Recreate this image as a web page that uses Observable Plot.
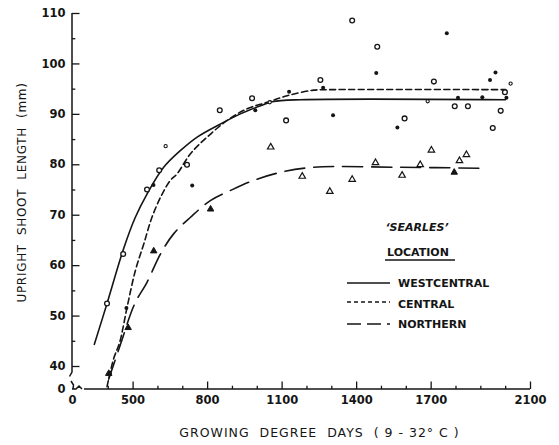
<!DOCTYPE html>
<html><head><meta charset="utf-8">
<script src="https://cdn.jsdelivr.net/npm/d3@7"></script>
<script src="https://cdn.jsdelivr.net/npm/@observablehq/plot@0.6"></script>
<style>body{margin:0;background:#fff} svg{font-family:"DejaVu Sans",sans-serif}</style>
</head><body><div id="chart"></div>
<script>
// Axis (broken at origin: the "0" tick sits at the break)
const xBreak = 256, yBreak = 35.44;
const xTickValues = [xBreak, 500, 800, 1100, 1400, 1700, 2100];
const xTickLabels = ["0", "500", "800", "1100", "1400", "1700", "2100"];
const xMinorTicks = [400, 600, 700, 900, 1000, 1200, 1300, 1500, 1600, 1800, 1900, 2000];
const yTickValues = [yBreak, 40, 50, 60, 70, 80, 90, 100, 110];
const yTickLabels = ["0", "40", "50", "60", "70", "80", "90", "100", "110"];
const yMinorTicks = [45, 55, 65, 75, 85, 95, 105];

// Observations
const wcX = [395, 460, 556, 605, 717, 849, 979, 1116, 1254, 1382, 1483, 1593, 1711, 1795, 1848, 1948, 1980, 1997];
const wcY = [52.5, 62.3, 75.1, 78.9, 80.0, 90.8, 93.2, 88.8, 96.8, 108.6, 103.4, 89.2, 96.5, 91.6, 91.6, 87.3, 90.7, 94.4];
const wcSmallX = [631, 1050, 1686, 2020];
const wcSmallY = [83.7, 92.4, 92.6, 96.1];
const centralX = [406, 473, 582, 738, 992, 1128, 1265, 1305, 1479, 1564, 1763, 1808, 1906, 1937, 1959, 2003];
const centralY = [38.6, 51.6, 76.0, 75.9, 90.8, 94.5, 95.3, 89.8, 98.2, 87.4, 106.1, 93.3, 93.4, 96.8, 98.3, 93.3];
const northX = [402, 480, 583, 812, 1054, 1181, 1292, 1382, 1476, 1583, 1656, 1701, 1793, 1814, 1842];
const northY = [38.6, 47.7, 62.9, 71.2, 83.5, 77.7, 74.7, 77.1, 80.4, 77.9, 80.0, 82.9, 78.5, 80.8, 82.0];
const northFilled = [true, true, true, true, false, false, false, false, false, false, false, false, true, false, false];

// Fitted curves
const wcCurveX = [344, 395, 462, 509, 556, 623, 690, 758, 852, 932, 1013, 1060, 1174, 1999];
const wcCurveY = [44.4, 52.5, 63.4, 69.6, 74.2, 79.5, 82.8, 85.5, 88.1, 90.1, 91.7, 92.5, 92.9, 92.9];
const centralCurveX = [395, 422, 446, 476, 509, 543, 576, 617, 650, 677, 731, 798, 879, 959, 1040, 1120, 1227, 1295, 1999];
const centralCurveY = [36.0, 41.6, 44.8, 51.8, 59.0, 64.3, 69.6, 74.2, 76.9, 78.2, 82.2, 85.5, 88.8, 91.1, 92.4, 93.7, 94.8, 94.9, 94.9];
const northCurveX = [402, 450, 506, 556, 610, 663, 731, 811, 892, 985, 1093, 1227, 1576, 1922];
const northCurveY = [37.5, 44.5, 52.4, 56.7, 62.3, 66.3, 69.6, 72.9, 74.9, 76.9, 78.5, 79.5, 79.5, 79.3];

const legendTitle = "\u2018SEARLES\u2019";
const legendHeading = "LOCATION";
const seriesNames = ["WESTCENTRAL", "CENTRAL", "NORTHERN"];
const xLabel = "GROWING  DEGREE  DAYS  ( 9 - 32\u00B0 C )";
const yLabel = "UPRIGHT  SHOOT  LENGTH  (mm)";

const zip = (xs, ys, extra) => xs.map((x, i) => ({x, y: ys[i], ...(extra ? {f: extra[i]} : {})}));
const W = 559, H = 445, mL = 72, mR = 29, mT = 13, mB = 56;
const innerW = W - mL - mR, innerH = H - mT - mB;
const ink = "#151515";
const dashes = [null, "6,3.5", "20,9"];

const plot = Plot.plot({
  width: W, height: H,
  marginLeft: mL, marginRight: mR, marginTop: mT, marginBottom: mB,
  x: {domain: [xBreak, 2100]},
  y: {domain: [yBreak, 110]},
  style: {fontFamily: "DejaVu Sans, sans-serif", fontSize: "11.5px", fontWeight: "bold", color: ink, background: "white"},
  marks: [
    Plot.axisX({ticks: xTickValues, tickFormat: d => xTickLabels[xTickValues.indexOf(d)], tickSize: 0, tickPadding: 6, label: null}),
    Plot.axisY({ticks: yTickValues, tickFormat: d => yTickLabels[yTickValues.indexOf(d)], tickSize: 0, tickPadding: 7, label: null}),
    Plot.tickX(xTickValues.slice(1), {x: d => d, insetTop: innerH - 7.5, stroke: ink, strokeWidth: 1.3}),
    Plot.tickX(xMinorTicks, {x: d => d, insetTop: innerH - 3.3, stroke: ink, strokeWidth: 1.3}),
    Plot.tickY(yTickValues.slice(1), {y: d => d, insetRight: innerW - 7.5, stroke: ink, strokeWidth: 1.3}),
    Plot.tickY(yMinorTicks, {y: d => d, insetRight: innerW - 3.3, stroke: ink, strokeWidth: 1.3}),
    Plot.line(zip(wcCurveX, wcCurveY), {x: "x", y: "y", curve: "catmull-rom", stroke: ink, strokeWidth: 1.6}),
    Plot.line(zip(centralCurveX, centralCurveY), {x: "x", y: "y", curve: "catmull-rom", stroke: ink, strokeWidth: 1.6, strokeDasharray: dashes[1]}),
    Plot.line(zip(northCurveX, northCurveY), {x: "x", y: "y", curve: "catmull-rom", stroke: ink, strokeWidth: 1.6, strokeDasharray: dashes[2]}),
    Plot.dot(zip(wcX, wcY), {x: "x", y: "y", r: 2.4, stroke: ink, fill: "white", strokeWidth: 1.3}),
    Plot.dot(zip(wcSmallX, wcSmallY), {x: "x", y: "y", r: 1.6, stroke: ink, fill: "white", strokeWidth: 1.1}),
    Plot.dot(zip(centralX, centralY), {x: "x", y: "y", r: 2.0, fill: ink, stroke: "none"}),
    Plot.dot(zip(northX, northY, northFilled).filter(d => d.f), {x: "x", y: "y", symbol: "triangle", r: 2.4, fill: ink, stroke: ink, strokeWidth: 1}),
    Plot.dot(zip(northX, northY, northFilled).filter(d => !d.f), {x: "x", y: "y", symbol: "triangle", r: 2.4, fill: "white", stroke: ink, strokeWidth: 1.2}),
    Plot.text([xLabel], {text: d => d, frameAnchor: "bottom", textAnchor: "middle", lineAnchor: "middle", dy: 43, dx: 18, fontSize: 12.5, fontWeight: "normal", fill: ink}),
    Plot.text([yLabel], {text: d => d, frameAnchor: "left", textAnchor: "middle", lineAnchor: "middle", dx: -50, dy: -9, rotate: -90, fontSize: 12, fontWeight: "normal", fill: ink})
  ]
});
document.getElementById("chart").appendChild(plot);

const svg = d3.select(plot);
svg.selectAll("text").filter(function(){return this.textContent === xLabel;}).style("white-space", "pre").style("letter-spacing", "1px");
svg.selectAll("text").filter(function(){return this.textContent === yLabel;}).style("white-space", "pre").style("letter-spacing", "0.7px");
const sx = plot.scale("x"), sy = plot.scale("y");
const x0 = sx.apply(xBreak), y0 = sy.apply(yBreak);
const yTop = sy.apply(110), xEnd = sx.apply(2100);
const ax = svg.append("g").attr("fill", "none").attr("stroke", ink).attr("stroke-width", 1.5);
ax.append("path").attr("d", `M${x0},${yTop}V${y0 - 17}l-2.5,4.5`);
ax.append("path").attr("d", `M${x0 - 1},${y0 - 8}l2.5,4l-0.5,4`);
ax.append("path").attr("d", `M${x0},${y0}h4l3,-3l3,3`);
ax.append("path").attr("d", `M${x0 + 12},${y0}H${xEnd}`);

// Legend
const lg = svg.append("g").attr("fill", ink).attr("text-anchor", "start").style("font-family", "DejaVu Sans, sans-serif").style("font-weight", "bold").style("font-size", "11px");
lg.append("text").attr("x", 417).attr("y", 227).attr("text-anchor", "middle").attr("dominant-baseline", "central").style("font-style", "italic").text(legendTitle);
lg.append("text").attr("x", 418).attr("y", 252).attr("text-anchor", "middle").attr("dominant-baseline", "central").text(legendHeading);
lg.append("line").attr("x1", 385).attr("x2", 455).attr("y1", 260).attr("y2", 260).attr("stroke", ink).attr("stroke-width", 1.5);
const rowY = [283, 304, 324];
seriesNames.forEach((name, i) => {
  const ly = rowY[i] - (i === 1 ? 2 : 0);
  const l = lg.append("line").attr("x1", 347).attr("x2", 390).attr("y1", ly).attr("y2", ly).attr("stroke", ink).attr("stroke-width", 1.5);
  if (dashes[i]) l.attr("stroke-dasharray", i === 2 ? "14,6" : "4,3");
  lg.append("text").attr("x", 398).attr("y", rowY[i]).attr("text-anchor", "start").attr("dominant-baseline", "central").text(name);
});
</script>
</body></html>
